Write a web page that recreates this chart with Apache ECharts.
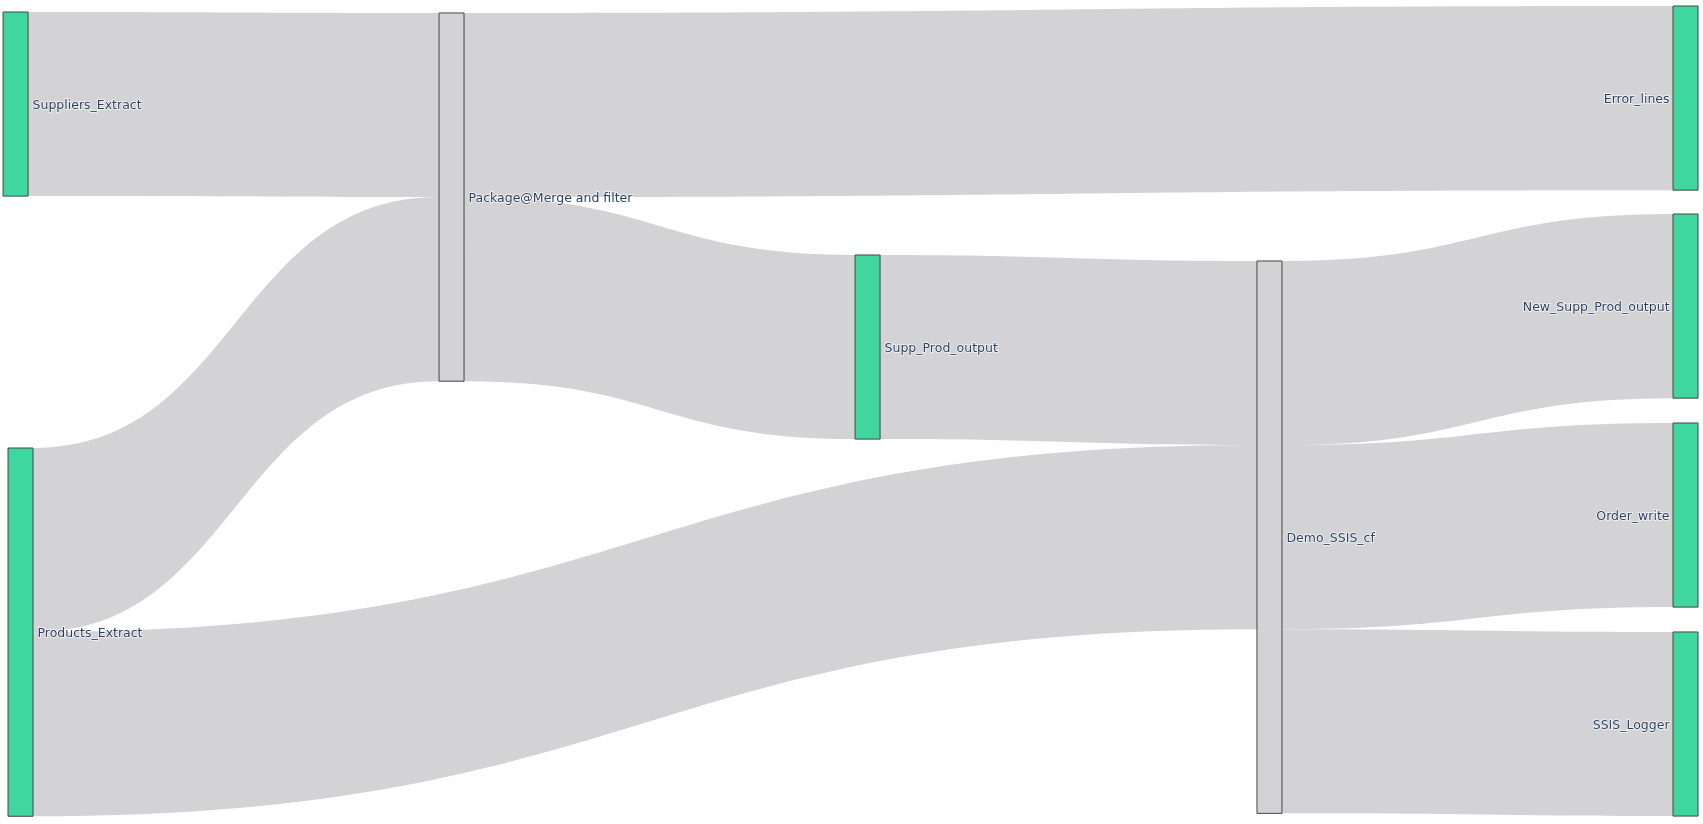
<!DOCTYPE html>
<html>
<head>
<meta charset="utf-8">
<script src="https://cdn.jsdelivr.net/npm/echarts@6/dist/echarts.min.js"></script>
<style>
  html, body { margin: 0; padding: 0; background: #fff; }
  #chart { width: 1703px; height: 824px; }
</style>
</head>
<body>
<div id="chart"></div>
<script>
// ---- Data ----
var nodeNames = [
  'Suppliers_Extract', 'Products_Extract', 'Package@Merge and filter',
  'Supp_Prod_output', 'Demo_SSIS_cf', 'Error_lines',
  'New_Supp_Prod_output', 'Order_write', 'SSIS_Logger'
];
var nodeKind = ['task', 'task', 'package', 'task', 'package', 'task', 'task', 'task', 'task'];
var linkSource = [
  'Suppliers_Extract', 'Products_Extract', 'Package@Merge and filter',
  'Package@Merge and filter', 'Products_Extract', 'Supp_Prod_output',
  'Demo_SSIS_cf', 'Demo_SSIS_cf', 'Demo_SSIS_cf'
];
var linkTarget = [
  'Package@Merge and filter', 'Package@Merge and filter', 'Error_lines',
  'Supp_Prod_output', 'Demo_SSIS_cf', 'Demo_SSIS_cf',
  'New_Supp_Prod_output', 'Order_write', 'SSIS_Logger'
];
var linkValue = [1, 1, 1, 1, 1, 1, 1, 1, 1];

// ---- Node arrangement (fractions of the sankey box, like plotly node.x / node.y) ----
var nodeX = [0.0018, 0.0047, 0.2578, 0.5021, 0.7381, 0.9824, 0.9824, 0.9824, 0.9824];
var nodeY = [0.0074, 0.5457, 0.0086, 0.3074, 0.3148, 0.0, 0.2568, 0.5148, 0.7728];
var nodeDepth = [0, 0, 1, 2, 3, 4, 4, 4, 4];

// ---- Styles ----
var GREEN = '#40d6a0';
var GRAY = '#d3d3d5';
var LINK = '#d3d3d5';
var TEXT = '#2a3f5f';

var nodes = nodeNames.map(function (name, i) {
  var isRight = nodeDepth[i] === 4;
  return {
    name: name,
    depth: nodeDepth[i],
    localX: nodeX[i],
    localY: nodeY[i],
    itemStyle: {
      color: nodeKind[i] === 'package' ? GRAY : GREEN,
      borderColor: '#444',
      borderWidth: 1
    },
    label: {
      position: isRight ? 'left' : 'right',
      distance: isRight ? 3 : 4
    }
  };
});

var links = linkSource.map(function (s, i) {
  return { source: s, target: linkTarget[i], value: linkValue[i] };
});

var chart = echarts.init(document.getElementById('chart'), null, { renderer: 'canvas' });
chart.setOption({
  backgroundColor: '#ffffff',
  animation: false,
  series: [{
    type: 'sankey',
    left: 0,
    right: 0,
    top: 6,
    bottom: 8,
    nodeWidth: 25,
    nodeGap: 24.5,
    layoutIterations: 0,
    draggable: false,
    nodeAlign: 'justify',
    emphasis: { disabled: true },
    data: nodes,
    links: links,
    lineStyle: { color: LINK, opacity: 1, curveness: 0.5 },
    label: {
      show: true,
      color: TEXT,
      fontFamily: 'DejaVu Sans',
      fontSize: 12.5,
      offset: [0, 2],
      textBorderColor: 'rgba(255,255,255,0.85)',
      textBorderWidth: 1.5
    }
  }]
});
</script>
</body>
</html>
